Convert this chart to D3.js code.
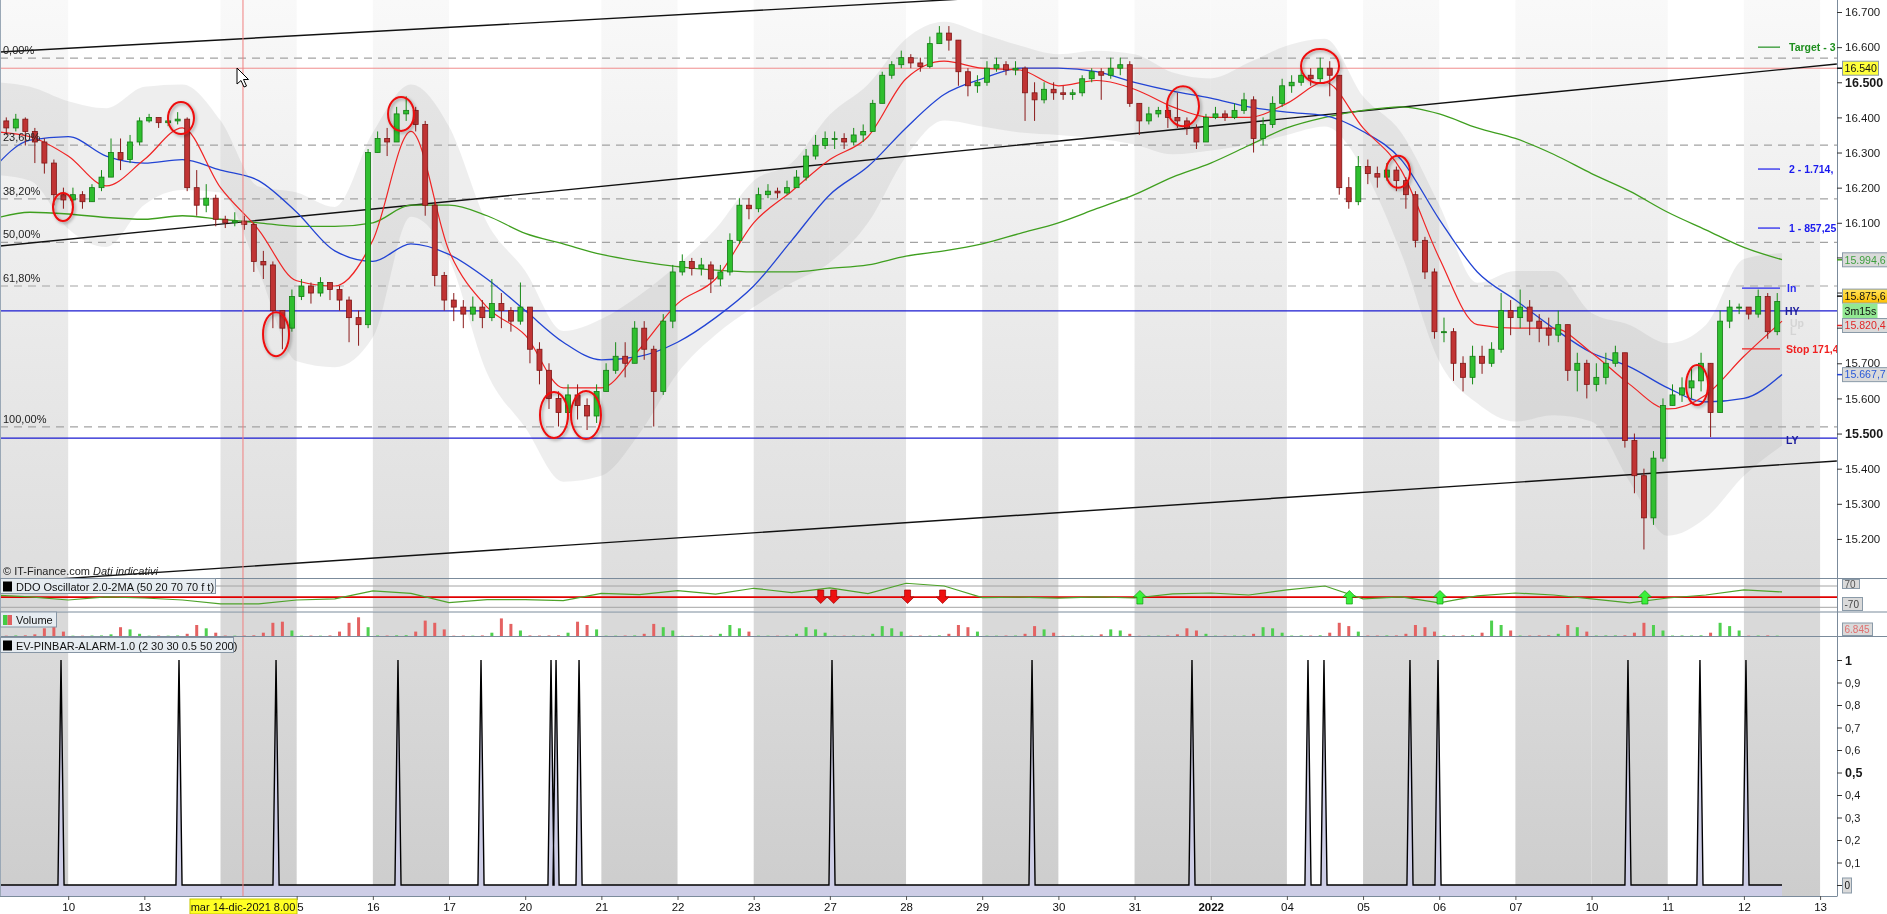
<!DOCTYPE html>
<html><head><meta charset="utf-8">
<script src="https://cdn.jsdelivr.net/npm/d3@7/dist/d3.min.js"></script>
<style>
html,body{margin:0;padding:0;background:#fff;overflow:hidden;}
svg{display:block;font-family:"Liberation Sans",Arial,sans-serif;}
</style></head><body>
<svg id="chart" width="1887" height="914"></svg>
<script>
// ---------------- DATA ----------------
const dayLabels = ["9","10","13","14","15","16","17","20","21","22","23","27","28","29","30","31","2022","04","05","06","07","10","11","12","13"];
const boldDayLabels = ["2022"];
const shadedDays = [0,3,5,8,10,11,13,15,16,18,20,21,23];
const barsPerDay = 8;
const firstOpen = 16380;
const closeByDay = [
[16390,16370,16395,16360,16330,16270,16180,16165],
[16180,16160,16200,16230,16300,16280,16330,16390],
[16400,16385,16390,16395,16200,16150,16170,16110],
[16100,16105,16095,15990,15980,15850,15800,15890],
[15920,15900,15930,15910,15880,15830,15810,16300],
[16340,16330,16410,16420,16380,16150,15950,15880],
[15860,15840,15860,15830,15870,15850,15820,15860],
[15740,15680,15600,15560,15610,15580,15550,15620],
[15680,15720,15700,15800,15740,15620,15820,15960],
[15990,15970,15980,15940,15960,16050,16150,16140],
[16180,16190,16185,16200,16230,16290,16320,16340],
[16340,16330,16350,16360,16440,16520,16550,16570],
[16555,16545,16610,16640,16620,16530,16490,16500],
[16540,16550,16535,16540,16470,16450,16480,16470],
[16465,16470,16510,16530,16520,16540,16550,16440],
[16390,16410,16420,16400,16390,16370,16330,16400],
[16410,16400,16420,16450,16340,16380,16440,16490],
[16500,16520,16510,16540,16520,16200,16160,16260],
[16240,16230,16250,16220,16180,16050,15960,15790],
[15790,15700,15660,15720,15700,15740,15850,15830],
[15860,15820,15800,15780,15810,15680,15700,15640],
[15660,15700,15730,15480,15380,15260,15430,15580],
[15610,15630,15650,15700,15560,15820,15860,15860],
[15840,15890,15790,15876]
];
const highByDay = [
[16410,16400,16410,16400,16370,16340,16280,16200],
[16200,16190,16210,16250,16340,16340,16350,16400],
[16410,16400,16405,16415,16400,16250,16210,16180],
[16120,16130,16120,16100,16020,15990,15850,15910],
[15940,15930,15945,15930,15920,15890,15850,16310],
[16360,16370,16430,16460,16430,16390,16160,15960],
[15900,15880,15890,15880,15940,15900,15860,15930],
[15800,15760,15700,15620,15640,15640,15600,15640],
[15700,15760,15760,15820,15820,15750,15840,15980],
[16010,16000,16000,15990,15980,16070,16170,16170],
[16200,16210,16200,16220,16250,16310,16350,16360],
[16360,16355,16370,16380,16450,16530,16560,16590],
[16580,16570,16630,16660,16660,16610,16540,16520],
[16560,16570,16560,16560,16545,16500,16500,16500],
[16490,16480,16520,16540,16540,16570,16570,16560],
[16440,16430,16430,16430,16470,16400,16380,16410],
[16430,16420,16440,16470,16460,16400,16460,16510],
[16520,16540,16540,16570,16560,16520,16230,16290],
[16280,16260,16270,16260,16230,16190,16060,15970],
[15830,15800,15720,15750,15750,15760,15900,15880],
[15910,15880,15840,15830,15850,15810,15730,15710],
[15700,15730,15750,15730,15500,15400,15450,15600],
[15640,15660,15690,15730,15700,15850,15880,15870],
[15850,15910,15900,15900]
];
const lowByDay = [
[16360,16350,16360,16320,16270,16240,16150,16140],
[16150,16140,16160,16190,16230,16250,16270,16320],
[16385,16370,16375,16380,16190,16120,16130,16090],
[16085,16090,16080,15960,15940,15800,15740,15790],
[15880,15870,15890,15880,15850,15760,15750,15800],
[16300,16290,16330,16390,16360,16120,15920,15850],
[15820,15800,15820,15800,15820,15800,15790,15810],
[15700,15640,15570,15520,15540,15540,15510,15530],
[15620,15670,15660,15700,15710,15520,15610,15800],
[15950,15950,15950,15900,15920,15950,16040,16110],
[16130,16170,16170,16180,16200,16220,16280,16310],
[16310,16310,16320,16330,16360,16440,16510,16540],
[16540,16530,16540,16610,16590,16490,16460,16470],
[16490,16530,16520,16520,16390,16390,16440,16450],
[16450,16450,16460,16500,16450,16510,16520,16430],
[16350,16380,16400,16370,16370,16350,16310,16330],
[16395,16390,16395,16410,16300,16320,16370,16430],
[16470,16490,16490,16500,16460,16180,16140,16150],
[16210,16200,16220,16190,16140,16030,15940,15770],
[15760,15650,15620,15640,15670,15690,15730,15780],
[15800,15780,15760,15750,15760,15650,15620,15600],
[15620,15640,15690,15460,15330,15170,15240,15420],
[15580,15590,15600,15620,15490,15560,15800,15840],
[15825,15830,15770,15780]
];
const volumeByDay = [
[400,300,500,600,1500,7000,9000,4000],
[300,300,400,500,1500,8000,6000,2000],
[300,400,300,500,2000,10000,7000,3000],
[400,300,400,600,3000,12000,13000,5000],
[300,400,300,500,4000,12000,17000,8000],
[500,400,600,700,4000,14000,12000,6000],
[300,400,300,500,3000,16000,11000,5000],
[500,400,500,600,3000,13000,10000,6000],
[300,300,400,500,2000,11000,8000,5000],
[200,300,300,400,2000,10000,7000,4000],
[300,300,300,400,2000,8000,6000,3000],
[300,300,400,400,2000,9000,7000,4000],
[300,400,300,500,2000,10000,8000,4000],
[300,300,400,400,2000,9000,6000,3000],
[200,300,300,300,1500,6000,5000,2000],
[200,300,300,400,1500,7000,5000,2000],
[300,300,400,500,2000,8000,7000,3000],
[400,500,400,600,3000,12000,9000,4000],
[400,400,500,500,2000,10000,8000,4000],
[500,400,500,600,3000,14000,10000,5000],
[400,400,500,600,2000,10000,8000,4000],
[400,500,500,600,3000,12000,10000,5000],
[400,500,400,600,3000,12000,9000,5000],
[300,400,500,300]
];
// indicator samples every half day (t = 0, 0.5, 1, ... days)
const sampleStep = 0.5;
const maRed = [16360,16345,16290,16205,16280,16370,16200,16080,15935,15920,16050,16360,16020,15860,15780,15630,15630,15740,15870,15940,16100,16190,16280,16345,16510,16560,16540,16535,16490,16505,16480,16430,16400,16400,16440,16500,16370,16250,16000,15810,15800,15800,15730,15640,15570,15610,15720,15820];
const maBlue = [16250,16335,16345,16290,16270,16280,16250,16220,16130,16020,15990,16040,16010,15940,15850,15760,15710,15720,15760,15830,15920,16050,16180,16260,16370,16465,16510,16540,16540,16530,16500,16475,16455,16430,16415,16405,16360,16280,16110,15960,15880,15800,15730,15690,15630,15590,15600,15668];
const maGreen = [16110,16130,16125,16115,16110,16120,16110,16100,16090,16090,16100,16150,16150,16120,16070,16040,16010,15990,15975,15965,15960,15960,15970,15980,16005,16020,16040,16070,16100,16140,16180,16230,16270,16320,16370,16400,16420,16430,16410,16370,16340,16295,16240,16190,16130,16080,16030,15995];
const bandUpper = [16501,16487,16446,16426,16487,16494,16391,16203,16186,16145,16357,16494,16374,16100,15963,15792,15826,15894,15980,16083,16220,16271,16408,16494,16624,16672,16638,16604,16580,16590,16580,16528,16511,16556,16604,16624,16460,16357,16151,15929,15963,15963,15843,15809,15757,15809,15997,16014];
const bandLower = [16237,16220,16083,16031,16151,16193,16186,15963,15706,15689,15774,16117,15997,15672,15517,15363,15380,15500,15672,15781,15860,15929,15987,16100,16289,16391,16374,16357,16350,16340,16323,16295,16306,16323,16350,16374,16254,16014,15706,15586,15534,15552,15534,15363,15209,15260,15380,15466];
const ddoValues = [11,-2,-22,-2,-9,-22,-48,-48,-22,-15,38,22,-39,-20,-20,-26,22,13,40,16,55,26,57,20,88,70,-6,-3,-10,-2,-9,18,24,11,44,70,-15,-2,-41,5,24,11,-15,-41,-9,11,44,31];
const ddoDownArrows = [10.88,11.05,12.02,12.48];
const ddoUpArrows = [15.07,17.82,19.01,21.70];
const pinbarTimes = [0.906,2.455,3.729,5.330,6.420,7.339,7.405,7.707,11.028,13.654,15.754,17.277,17.487,18.616,18.984,21.478,22.423,23.027];
const circleTimes = [0.932,2.481,3.729,5.370,7.378,7.798,15.636,17.435,18.459,22.385];
const circlePrices = [16145,16398,15783,16410,15553,15553,16432,16546,16245,15638];
const fibHigh = 16569, fibLow = 15519;
const fibLevels = [0,0.236,0.382,0.5,0.618,1];
const fibLabels = ["0,00%","23,60%","38,20%","50,00%","61,80%","100,00%"];
const trendLines = [[0.105,16586,24.22,16874],[0.105,16034,24.22,16552],[0.105,15075,24.22,15422]];
const hyPrice = 15849, lyPrice = 15487, markPrice = 16540;
const targetLabels = ["Target - 3","2  - 1.714,","1  - 857,25"];
const targetPrices = [16600,16253,16085];
const inPrice = 15914, stopPrice = 15741;
const lastPrice = 15875.6, lastGreen = 15994.6, lastRed = 15820.4, lastBlue = 15667.7;
const countdown = "3m15s";
const lastVolume = "6.845";
const priceTicks = [16700,16600,16500,16400,16300,16200,16100,15700,15600,15500,15400,15300,15200];
const boldPriceTicks = [16500,15500];
const pinTicks = [0,0.1,0.2,0.3,0.4,0.5,0.6,0.7,0.8,0.9,1];
const crosshairTime = 3.295;
const crosshairLabel = "mar 14-dic-2021 8.00";

// ---------------- LAYOUT ----------------
const svg = d3.select("#chart");
const PR = 1837;
const MAIN = [0,578], DDO = [578,611.5], VOL = [611.5,636], PIN = [636,896];
const FONT = "Liberation Sans, Arial, sans-serif";
const it = d3.formatLocale({decimal:",", thousands:".", grouping:[3], currency:["€",""]});
const fmtPrice = it.format(",.0f"), fmt1 = it.format(",.1f"), fmtPin = it.format(".1~f");

const x = d3.scaleLinear().domain([0,24]).range([-8, -8 + 24*76.17]);
const y = d3.scaleLinear().domain([15088.8,16734.2]).range([578,0]);
const yD = d3.scaleLinear().domain([-70,70]).range([607.3,586]);
const yV = d3.scaleLinear().domain([0,20000]).range([636,614]);
const yP = d3.scaleLinear().domain([0,1]).range([885,660]);

const bars = [];
let prev = firstOpen;
closeByDay.forEach((day,d)=>day.forEach((c,k)=>{
  const o = prev;
  bars.push({t:d+(k+0.5)/barsPerDay, o, c, h:Math.max(highByDay[d][k],o,c), l:Math.min(lowByDay[d][k],o,c), v:volumeByDay[d][k]});
  prev = c;
}));
const tEnd = bars[bars.length-1].t + 0.5/barsPerDay;
const sT = i => i*sampleStep;

const defs = svg.append("defs");
function clip(id,y0,y1){defs.append("clipPath").attr("id",id).append("rect").attr("x",0).attr("y",y0).attr("width",PR).attr("height",y1-y0);}
clip("cMain",MAIN[0],MAIN[1]); clip("cDDO",DDO[0],DDO[1]); clip("cVol",VOL[0],VOL[1]); clip("cPin",PIN[0],PIN[1]);
const g1 = defs.append("linearGradient").attr("id","gMain").attr("x1",0).attr("x2",0).attr("y1",0).attr("y2",1);
g1.append("stop").attr("offset","0%").attr("stop-color","#f9f9f9");
g1.append("stop").attr("offset","100%").attr("stop-color","#dedede");
const g2 = defs.append("linearGradient").attr("id","gPin").attr("x1",0).attr("x2",0).attr("y1",0).attr("y2",1);
g2.append("stop").attr("offset","0%").attr("stop-color","#dbdbdb");
g2.append("stop").attr("offset","100%").attr("stop-color","#cdcdcd");
const g3 = defs.append("linearGradient").attr("id","gLast").attr("x1",0).attr("x2",0).attr("y1",0).attr("y2",1);
g3.append("stop").attr("offset","0%").attr("stop-color","#ffe45a");
g3.append("stop").attr("offset","100%").attr("stop-color","#ffbf00");
const sh = defs.append("filter").attr("id","shadow").attr("x","-50%").attr("y","-50%").attr("width","200%").attr("height","200%");
sh.append("feDropShadow").attr("dx",1.5).attr("dy",1.5).attr("stdDeviation",1.5).attr("flood-color","#000").attr("flood-opacity",0.35);

svg.append("rect").attr("width",1887).attr("height",914).attr("fill","#fff");

function bands(clipId,y0,y1,fill){
  svg.append("g").attr("clip-path",`url(#${clipId})`).selectAll("rect").data(shadedDays).join("rect")
    .attr("x",d=>x(d)).attr("width",d=>x(d+1)-x(d)).attr("y",y0).attr("height",y1-y0).attr("fill",fill);
}
bands("cMain",MAIN[0],MAIN[1],"url(#gMain)");
bands("cDDO",DDO[0],DDO[1],"#d9d9d9");
bands("cVol",VOL[0],VOL[1],"#d9d9d9");
bands("cPin",PIN[0],PIN[1],"url(#gPin)");

// ---------------- MAIN PANEL ----------------
const gm = svg.append("g").attr("clip-path","url(#cMain)");
gm.append("path").datum(bandUpper.map((u,i)=>[sT(i),u,bandLower[i]]))
  .attr("d",d3.area().x(d=>x(d[0])).y0(d=>y(d[2])).y1(d=>y(d[1])).curve(d3.curveMonotoneX))
  .attr("fill","#8c8c8c").attr("fill-opacity",0.15);

gm.selectAll(".fib").data(fibLevels).join("line").attr("class","fib")
  .attr("x1",0).attr("x2",PR).attr("y1",d=>y(fibHigh-d*(fibHigh-fibLow))).attr("y2",d=>y(fibHigh-d*(fibHigh-fibLow)))
  .attr("stroke","#a3a3a3").attr("stroke-width",1.2).attr("stroke-dasharray","8,6");
gm.append("line").attr("x1",0).attr("x2",PR).attr("y1",y(markPrice)).attr("y2",y(markPrice)).attr("stroke","#f08c8c").attr("stroke-width",1);
[hyPrice,lyPrice].forEach(p=>gm.append("line").attr("x1",0).attr("x2",PR).attr("y1",y(p)).attr("y2",y(p)).attr("stroke","#1a1ad0").attr("stroke-width",1.2));
gm.selectAll(".tl").data(trendLines).join("line").attr("class","tl")
  .attr("x1",d=>x(d[0])).attr("y1",d=>y(d[1])).attr("x2",d=>x(d[2])).attr("y2",d=>y(d[3]))
  .attr("stroke","#111").attr("stroke-width",1.4);
const maLine = d3.line().x((d,i)=>x(sT(i))).y(d=>y(d)).curve(d3.curveMonotoneX);
gm.append("path").attr("d",maLine(maGreen)).attr("fill","none").attr("stroke","#3f9f1f").attr("stroke-width",1.3);
gm.append("path").attr("d",maLine(maBlue)).attr("fill","none").attr("stroke","#2244d4").attr("stroke-width",1.3);
gm.append("path").attr("d",maLine(maRed)).attr("fill","none").attr("stroke","#f02424").attr("stroke-width",1.2);

const up = b=>b.c>=b.o;
const cg = gm.append("g");
cg.selectAll(".wick").data(bars).join("line").attr("class","wick")
  .attr("x1",b=>x(b.t)).attr("x2",b=>x(b.t)).attr("y1",b=>y(b.h)).attr("y2",b=>y(b.l))
  .attr("stroke",b=>up(b)?"#168a16":"#8a1a1a").attr("stroke-width",1);
cg.selectAll(".body").data(bars).join("rect").attr("class","body")
  .attr("x",b=>x(b.t)-2.5).attr("width",5)
  .attr("y",b=>y(Math.max(b.o,b.c))).attr("height",b=>Math.max(1,Math.abs(y(b.o)-y(b.c))))
  .attr("fill",b=>up(b)?"#2fbf2f":"#c03434").attr("stroke",b=>up(b)?"#137a13":"#7e1616").attr("stroke-width",0.8);

const circleSize = [[10,14],[13,16],[13,22],[13,17],[14,23],[15,24],[16,20],[19,17],[12,16],[11,20]];
gm.selectAll(".circ").data(circleTimes).join("ellipse").attr("class","circ")
  .attr("cx",d=>x(d)).attr("cy",(d,i)=>y(circlePrices[i]))
  .attr("rx",(d,i)=>circleSize[i][0]).attr("ry",(d,i)=>circleSize[i][1])
  .attr("fill","none").attr("stroke","#ee1010").attr("stroke-width",2).attr("filter","url(#shadow)");

const ga = gm.append("g").attr("font-family",FONT).attr("font-size",10.5).attr("font-weight","bold");
targetLabels.forEach((lab,i)=>{
  const col = i===0?"#1f8f1f":"#1a1aee";
  ga.append("line").attr("x1",1758).attr("x2",1780).attr("y1",y(targetPrices[i])).attr("y2",y(targetPrices[i])).attr("stroke",col).attr("stroke-width",1.2);
  ga.append("text").attr("x",1789).attr("y",y(targetPrices[i])).attr("dy","0.35em").attr("fill",col).text(lab);
});
ga.append("line").attr("x1",1742).attr("x2",1780).attr("y1",y(inPrice)).attr("y2",y(inPrice)).attr("stroke","#2a2af0").attr("stroke-width",1.2);
ga.append("text").attr("x",1787).attr("y",y(inPrice)).attr("dy","0.35em").attr("fill","#2a2af0").text("In");
ga.append("text").attr("x",1790).attr("y",y(hyPrice)+12).attr("dy","0.35em").attr("fill","#d4d4d4").text("Up");
ga.append("text").attr("x",1785).attr("y",y(hyPrice)).attr("dy","0.35em").attr("fill","#1c1c9c").text("HY");
ga.append("text").attr("x",1790).attr("y",y(15790)).attr("dy","0.35em").attr("fill","#d4d4d4").text("L");
ga.append("line").attr("x1",1742).attr("x2",1780).attr("y1",y(stopPrice)).attr("y2",y(stopPrice)).attr("stroke","#f02020").attr("stroke-width",1.2);
ga.append("text").attr("x",1786).attr("y",y(stopPrice)).attr("dy","0.35em").attr("fill","#f02020").text("Stop 171,4");
ga.append("text").attr("x",1786).attr("y",y(lyPrice)+2).attr("dy","0.35em").attr("fill","#1c1c9c").text("LY");

gm.selectAll(".fibl").data(fibLevels).join("text").attr("class","fibl")
  .attr("x",3).attr("y",d=>y(fibHigh-d*(fibHigh-fibLow))-4)
  .attr("font-family",FONT).attr("font-size",11).attr("fill","#222").text((d,i)=>fibLabels[i]);

const cp = svg.append("text").attr("x",3).attr("y",575).attr("font-family",FONT).attr("font-size",11).attr("fill","#222");
cp.append("tspan").text("© IT-Finance.com  ");
cp.append("tspan").attr("font-style","italic").text("Dati indicativi");

// ---------------- DDO PANEL ----------------
const gd = svg.append("g").attr("clip-path","url(#cDDO)");
[70,-70].forEach(v=>gd.append("line").attr("x1",0).attr("x2",PR).attr("y1",yD(v)).attr("y2",yD(v)).attr("stroke","#a4a4a4").attr("stroke-width",1));
gd.append("line").attr("x1",0).attr("x2",PR).attr("y1",yD(0)+0.5).attr("y2",yD(0)+0.5).attr("stroke","#e00000").attr("stroke-width",1.6);
gd.append("path").attr("d",d3.line().x((d,i)=>x(sT(i))).y(d=>yD(d))(ddoValues)).attr("fill","none").attr("stroke","#4ea32a").attr("stroke-width",1.2);
gd.selectAll(".dn").data(ddoDownArrows).join("path").attr("class","dn")
  .attr("d",t=>{const c=x(t);return `M${c-3},590 h6 v7 h3.5 l-6.5,6.5 l-6.5,-6.5 h3.5 z`;})
  .attr("fill","#ee1111").attr("stroke","#a00000").attr("stroke-width",0.7);
gd.selectAll(".upa").data(ddoUpArrows).join("path").attr("class","upa")
  .attr("d",t=>{const c=x(t);return `M${c-3},604 h6 v-7 h3.5 l-6.5,-6.5 l-6.5,6.5 h3.5 z`;})
  .attr("fill","#3af03a").attr("stroke","#139913").attr("stroke-width",0.7);

// ---------------- VOLUME ----------------
const gv = svg.append("g").attr("clip-path","url(#cVol)");
gv.selectAll("rect").data(bars).join("rect")
  .attr("x",b=>x(b.t)-1.5).attr("width",3).attr("y",b=>yV(b.v)).attr("height",b=>yV(0)-yV(b.v))
  .attr("fill",b=>up(b)?"#4fd04f":"#e46262");

// ---------------- PINBAR ----------------
const gp = svg.append("g").attr("clip-path","url(#cPin)");
const spikeHalf = 0.04;
const pinPts = [[0,0]];
pinbarTimes.forEach(t=>pinPts.push([t-spikeHalf,0],[t,1],[t+spikeHalf,0]));
pinPts.push([tEnd,0]);
gp.append("path").attr("d",d3.area().x(d=>x(d[0])).y0(PIN[1]).y1(d=>yP(d[1]))(pinPts))
  .attr("fill","#cdcde6").style("mix-blend-mode","multiply");
gp.append("path").attr("d",d3.line().x(d=>x(d[0])).y(d=>yP(d[1]))(pinPts))
  .attr("fill","none").attr("stroke","#000").attr("stroke-width",1.4).attr("stroke-linejoin","miter");

// ---------------- CROSSHAIR / CURSOR ----------------
svg.append("line").attr("x1",x(crosshairTime)).attr("x2",x(crosshairTime)).attr("y1",0).attr("y2",PIN[1]).attr("stroke","#f08080").attr("stroke-width",1);
svg.append("path").attr("transform","translate(237,68)")
  .attr("d","M0,0 L0,16 L4,12.5 L7,19 L9.5,18 L6.5,11.5 L11.5,11.5 Z").attr("fill","#fff").attr("stroke","#000").attr("stroke-width",1);

// ---------------- BORDERS ----------------
const bc = "#7b8b9b";
[MAIN[1],DDO[1],VOL[1]].forEach(yy=>svg.append("line").attr("x1",0).attr("x2",1887).attr("y1",yy+0.5).attr("y2",yy+0.5).attr("stroke",bc));
svg.append("line").attr("x1",0).attr("x2",PR).attr("y1",PIN[1]+0.5).attr("y2",PIN[1]+0.5).attr("stroke",bc);
svg.append("line").attr("x1",PR+0.5).attr("x2",PR+0.5).attr("y1",0).attr("y2",PIN[1]+0.5).attr("stroke",bc);
svg.append("line").attr("x1",0.5).attr("x2",0.5).attr("y1",0).attr("y2",PIN[1]).attr("stroke","#9aa8b6");

function titleBox(y0,w,label,icon){
  const g = svg.append("g");
  g.append("rect").attr("x",0.5).attr("y",y0+0.5).attr("width",w).attr("height",15).attr("fill","#e6ecf1").attr("stroke","#8796a5");
  if(icon==="black") g.append("rect").attr("x",3).attr("y",y0+3.5).attr("width",9).attr("height",10).attr("fill","#000");
  else { g.append("rect").attr("x",3).attr("y",y0+3.5).attr("width",4.5).attr("height",10).attr("fill","#44cc44");
         g.append("rect").attr("x",7.5).attr("y",y0+3.5).attr("width",4.5).attr("height",10).attr("fill","#e06060"); }
  g.append("text").attr("x",16).attr("y",y0+12.5).attr("font-family",FONT).attr("font-size",11).attr("fill","#111").text(label);
}
titleBox(578,215,"DDO Oscillator 2.0-2MA (50 20 70 70 f t)","black");
titleBox(611.5,56,"Volume","vol");
titleBox(637,233,"EV-PINBAR-ALARM-1.0 (2 30 30 0.5 50 200)","black");

// ---------------- AXES ----------------
const axP = svg.append("g").attr("transform",`translate(${PR},0)`)
  .call(d3.axisRight(y).tickValues(priceTicks).tickFormat(fmtPrice).tickSize(5).tickPadding(3));
axP.attr("font-family",FONT);
axP.select(".domain").remove();
axP.selectAll("line").attr("stroke","#333");
axP.selectAll("text").attr("fill","#1a1a1a")
  .attr("font-size",d=>boldPriceTicks.includes(d)?12.5:11.5).attr("font-weight",d=>boldPriceTicks.includes(d)?"bold":"normal");
[16000,15900,15800].forEach(v=>svg.append("line").attr("x1",PR).attr("x2",PR+5).attr("y1",y(v)).attr("y2",y(v)).attr("stroke","#333"));

const axPin = svg.append("g").attr("transform",`translate(${PR},0)`)
  .call(d3.axisRight(yP).tickValues(pinTicks).tickFormat(d=>d===0?"":fmtPin(d)).tickSize(5).tickPadding(3));
axPin.attr("font-family",FONT);
axPin.select(".domain").remove();
axPin.selectAll("line").attr("stroke","#333");
axPin.selectAll("text").attr("fill","#1a1a1a")
  .attr("font-size",d=>(d===1||d===0.5)?12.5:11).attr("font-weight",d=>(d===1||d===0.5)?"bold":"normal");

const visibleDays = d3.range(dayLabels.length).filter(i=>x(i)>5 && Math.abs(x(i)-x(crosshairTime))>40);
const axX = svg.append("g").attr("transform",`translate(0,${PIN[1]})`)
  .call(d3.axisBottom(x).tickValues(d3.range(dayLabels.length)).tickFormat(i=>visibleDays.includes(i)?dayLabels[i]:"").tickSize(4).tickPadding(3));
axX.attr("font-family",FONT);
axX.select(".domain").remove();
axX.selectAll("line").attr("stroke","#555");
axX.selectAll("text").attr("fill","#111").attr("font-size",11.5)
  .attr("font-weight",i=>boldDayLabels.includes(dayLabels[i])?"bold":"normal");

function axBox(yc,w,label,fill,color,tickColor){
  const g = svg.append("g");
  if(tickColor) g.append("line").attr("x1",PR).attr("x2",PR+5).attr("y1",yc).attr("y2",yc).attr("stroke",tickColor).attr("stroke-width",1.5);
  g.append("rect").attr("x",PR+5.5).attr("y",yc-7).attr("width",w).attr("height",14).attr("fill",fill).attr("stroke","#8a9aa8");
  g.append("text").attr("x",PR+7.5).attr("y",yc).attr("dy","0.36em").attr("font-family",FONT).attr("font-size",10.6).attr("fill",color).text(label);
}
axBox(y(markPrice),36,fmtPrice(markPrice),"#ffff3c","#111","#111");
axBox(y(lastGreen),45,fmt1(lastGreen),"#dadada","#3f9f3f","#3f9f1f");
axBox(y(lastPrice)-5.5,45,fmt1(lastPrice),"url(#gLast)","#111","#111");
svg.append("rect").attr("x",PR+5.5).attr("y",y(lastPrice)+2).attr("width",35).attr("height",15).attr("fill","#92e892");
svg.append("text").attr("x",PR+7.5).attr("y",y(lastPrice)+9.5).attr("dy","0.36em").attr("font-family",FONT).attr("font-size",10.6).attr("fill","#111").text(countdown);
axBox(y(lastRed)+4.5,45,fmt1(lastRed),"#dadada","#e02828","#e02828");
axBox(y(lastBlue),45,fmt1(lastBlue),"#dadada","#2a5ad8","#2244d4");

function smallBox(x0,y0,w,h,label,color){
  svg.append("rect").attr("x",x0).attr("y",y0).attr("width",w).attr("height",h).attr("fill","#dadada").attr("stroke","#8a9aa8");
  svg.append("text").attr("x",x0+2).attr("y",y0+h/2).attr("dy","0.36em").attr("font-family",FONT).attr("font-size",10).attr("fill",color).text(label);
}
smallBox(PR+5.5,597.5,20,13,"-70","#444");
smallBox(PR+5.5,579.5,17,9,"70","#555");
smallBox(PR+5.5,623,30,12.5,lastVolume,"#e07070");
smallBox(PR+5.5,878,9,15,"0","#111");

const cx = x(crosshairTime);
svg.append("rect").attr("x",cx-53).attr("y",899).attr("width",107).attr("height",15).attr("fill","#ffff24").attr("stroke","#c8c800");
svg.append("text").attr("x",cx).attr("y",911).attr("text-anchor","middle").attr("font-family",FONT).attr("font-size",11).attr("fill","#111").text(crosshairLabel);
</script></body></html>
